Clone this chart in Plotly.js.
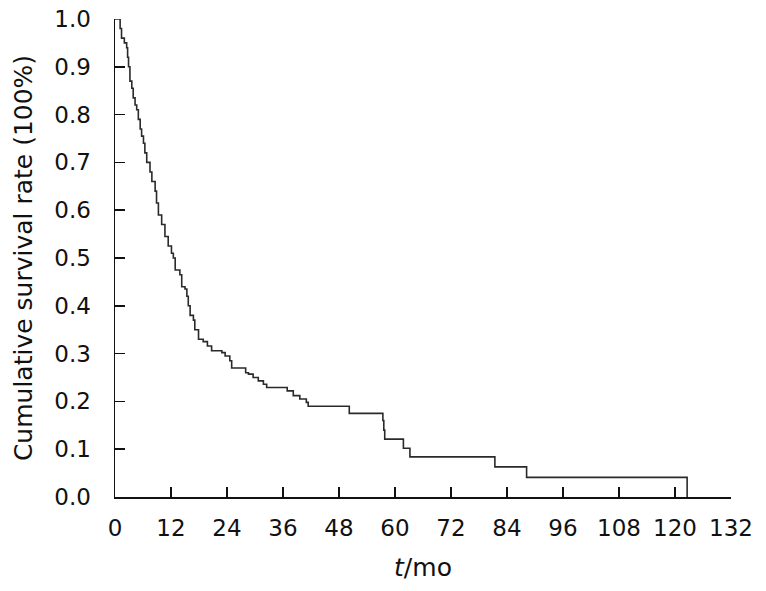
<!DOCTYPE html>
<html>
<head>
<meta charset="utf-8">
<script src="https://cdn.plot.ly/plotly-3.0.1.min.js"></script>
<style>
  html, body { margin: 0; padding: 0; background: #fff; }
  #grafico { width: 766px; height: 591px; }
</style>
</head>
<body>
<div id="grafico"></div>
<script>
// Tiempos (meses) y supervivencia acumulada tras cada evento
const tiempos = [0, 1.1, 1.4, 2.0, 2.5, 2.7, 2.9, 3.2, 3.6, 3.9, 4.3, 4.65, 5.0, 5.4, 5.7, 6.1,
  6.4, 6.8, 7.5, 7.9, 8.6, 8.9, 9.3, 10.0, 10.7, 11.4, 12.1, 12.5, 12.9, 13.9, 14.3, 15.0,
  15.4, 15.7, 16.1, 16.8, 17.1, 17.9, 18.9, 19.8, 20.7, 22.9, 23.6, 24.6, 25.0, 28.0, 28.6,
  29.6, 30.7, 31.8, 32.5, 36.9, 38.2, 39.6, 41.0, 41.4, 50.2, 57.4, 57.6, 57.8, 61.8, 63.2,
  81.4, 88.2, 122.6];
const supervivencia = [1.0, 0.98, 0.96, 0.95, 0.94, 0.92, 0.90, 0.87, 0.855, 0.835, 0.82, 0.81,
  0.79, 0.77, 0.755, 0.74, 0.72, 0.70, 0.68, 0.66, 0.64, 0.615, 0.59, 0.57, 0.545, 0.525, 0.51,
  0.50, 0.475, 0.465, 0.44, 0.435, 0.42, 0.40, 0.38, 0.37, 0.35, 0.33, 0.325, 0.316, 0.306,
  0.302, 0.295, 0.285, 0.27, 0.26, 0.257, 0.25, 0.243, 0.236, 0.229, 0.222, 0.212, 0.205,
  0.198, 0.19, 0.175, 0.16, 0.14, 0.121, 0.102, 0.084, 0.063, 0.041, 0];

const ticksX = [0, 12, 24, 36, 48, 60, 72, 84, 96, 108, 120, 132];
const ticksY = [0, 0.1, 0.2, 0.3, 0.4, 0.5, 0.6, 0.7, 0.8, 0.9, 1.0];

const fuente = "DejaVu Sans, sans-serif";

const data = [{
  x: tiempos,
  y: supervivencia,
  mode: 'lines',
  line: {shape: 'hv', color: '#2a2a2a', width: 1.6},
  hoverinfo: 'x+y'
}];

const layout = {
  width: 766,
  height: 591,
  margin: {l: 115, r: 35, t: 19, b: 94},
  paper_bgcolor: '#fff',
  plot_bgcolor: '#fff',
  showlegend: false,
  font: {family: fuente, size: 23, color: '#111'},
  xaxis: {
    range: [0, 132],
    tickvals: ticksX,
    ticktext: ticksX.map(String),
    ticks: 'inside',
    ticklen: 10,
    tickwidth: 1.5,
    tickcolor: '#111',
    showline: true,
    linecolor: '#111',
    linewidth: 1.5,
    showgrid: false,
    zeroline: false,
    ticklabelstandoff: 10,
    title: {text: '<i>t</i>/mo', font: {family: fuente, size: 25}, standoff: 18}
  },
  yaxis: {
    range: [0, 1],
    tickvals: ticksY,
    ticktext: ticksY.map(v => v.toFixed(1)),
    ticks: 'inside',
    ticklen: 10,
    tickwidth: 1.5,
    tickcolor: '#111',
    showline: true,
    linecolor: '#111',
    linewidth: 1.5,
    showgrid: false,
    zeroline: false,
    ticklabelstandoff: 18,
    title: {text: 'Cumulative survival rate (100%)', font: {family: fuente, size: 25}, standoff: 14}
  }
};

Plotly.newPlot('grafico', data, layout, {displayModeBar: false, staticPlot: true});
</script>
</body>
</html>
